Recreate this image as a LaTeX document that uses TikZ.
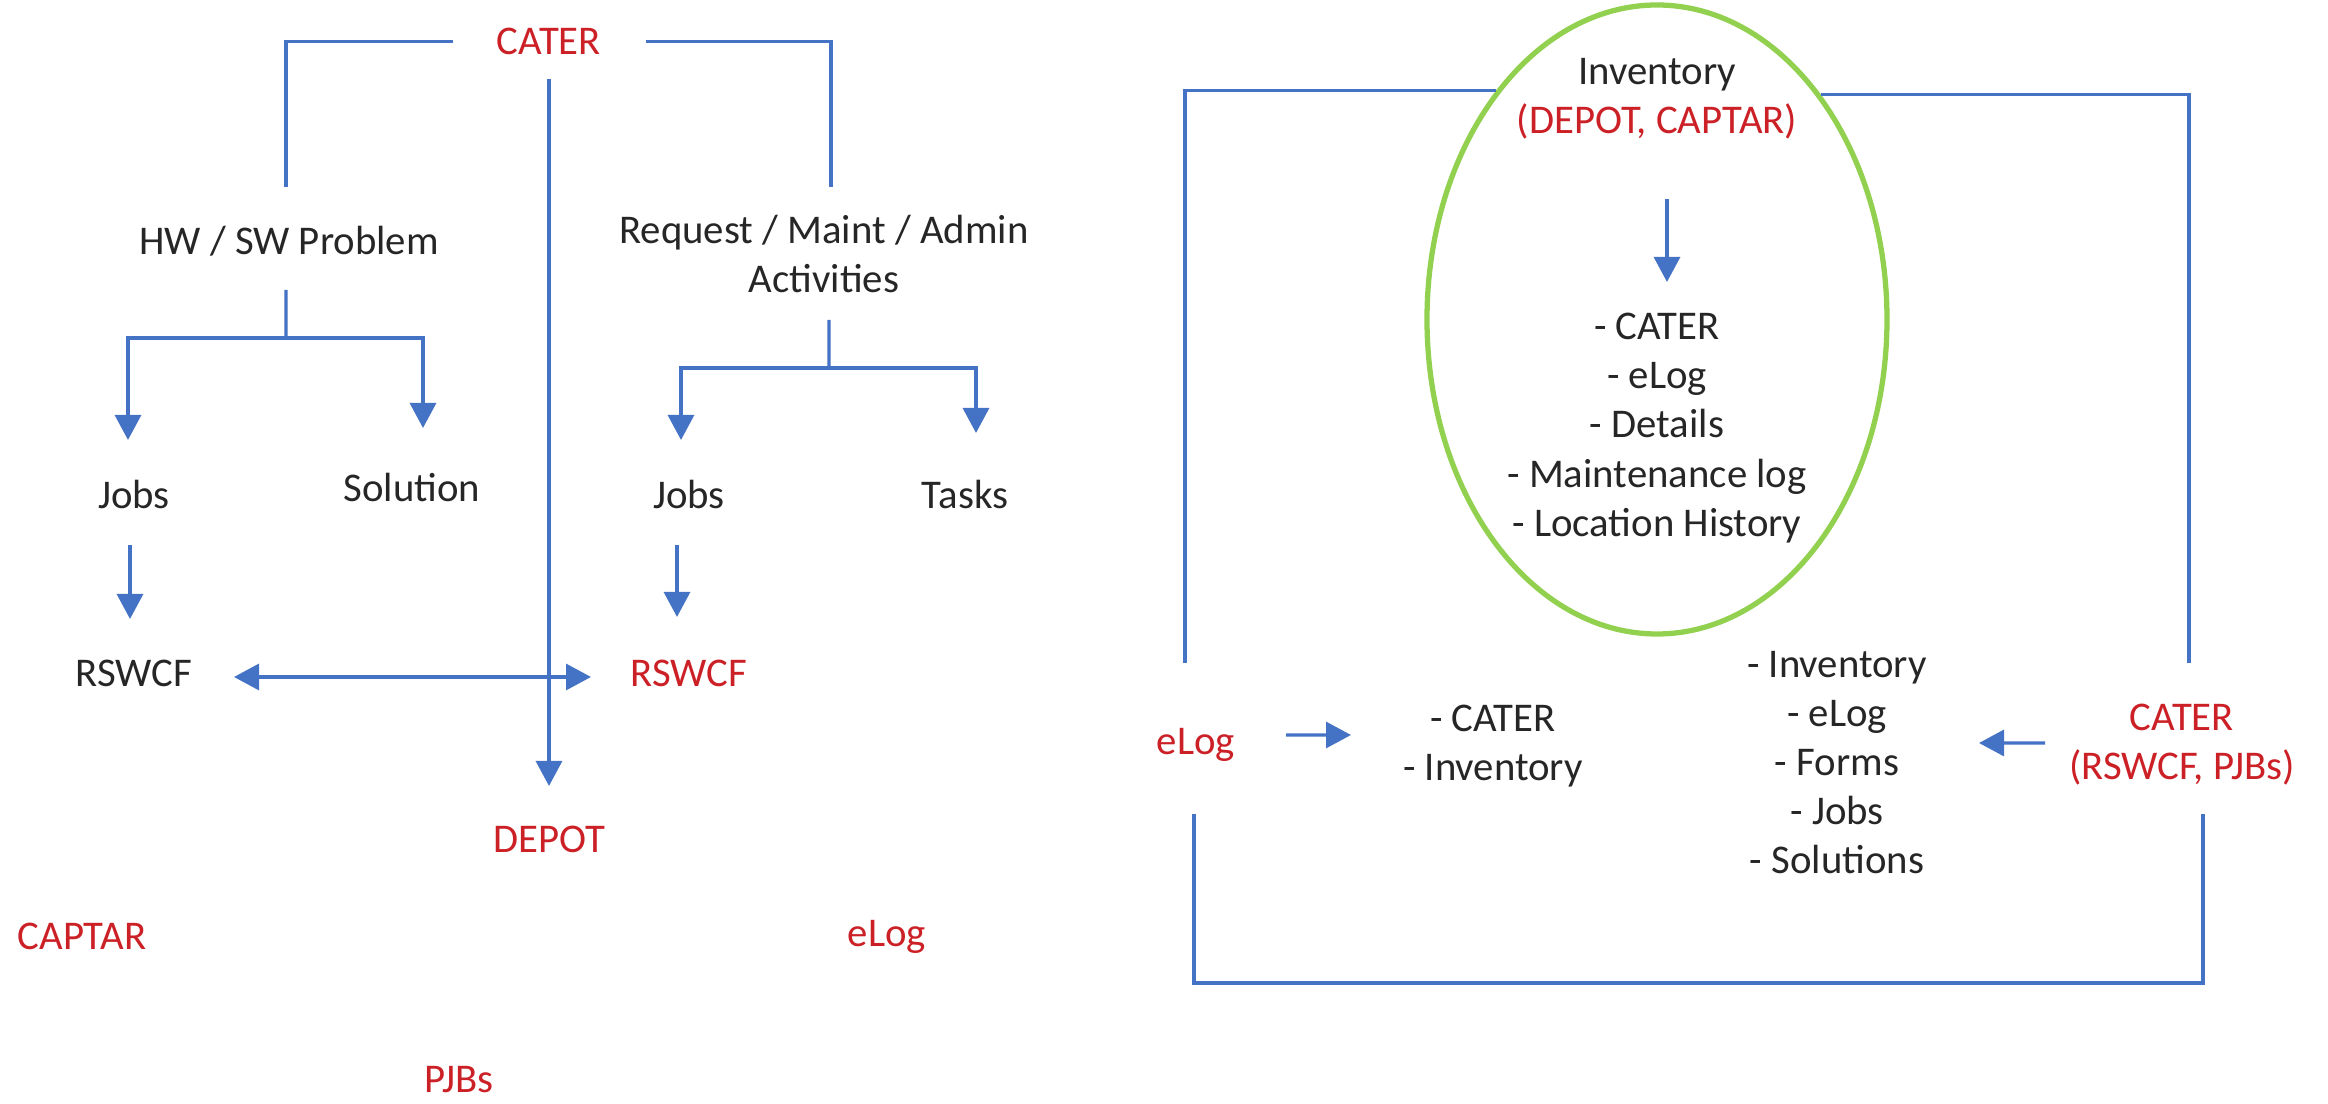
\documentclass[tikz,border=0pt]{standalone}
\usepackage{fontspec}
\setmainfont{Carlito}
\usetikzlibrary{arrows.meta,shapes.geometric}
\definecolor{lineblue}{HTML}{4472C4}
\definecolor{txtred}{HTML}{CC2027}
\definecolor{ringgreen}{HTML}{92D050}
\definecolor{txtgray}{HTML}{262626}
\tikzset{
  lbl/.style={inner sep=0pt, text=txtgray, align=center, font=\fontsize{11.6}{14}\selectfont},
  redlbl/.style={lbl, text=txtred},
  link/.style={draw=lineblue, line width=0.9pt},
  flow/.style={link, -{Triangle[length=2.5mm,width=2.6mm]}},
  twoway/.style={link, {Triangle[length=2.5mm,width=2.6mm]}-{Triangle[length=2.5mm,width=2.6mm]}},
}
\begin{document}
\begin{tikzpicture}
    \useasboundingbox (0,0) rectangle (23.28,-11.04);
    \node[redlbl] (caterT) at (5.49,-0.415) {CATER};
    \node[lbl] (hw) at (2.89,-2.41) {HW / SW Problem};
    \node[lbl] (req) at (8.24,-2.54) {Request / Maint / Admin\\Activities};
    \node[lbl] (jobsA) at (1.34,-4.95) {Jobs};
    \node[lbl] (sol) at (4.12,-4.88) {Solution};
    \node[lbl] (jobsB) at (6.89,-4.95) {Jobs};
    \node[lbl] (tasks) at (9.65,-4.95) {Tasks};
    \node[lbl] (rswA) at (1.34,-6.73) {RSWCF};
    \node[redlbl] (rswB) at (6.89,-6.73) {RSWCF};
    \node[redlbl] (depot) at (5.49,-8.39) {DEPOT};
    \node[redlbl] (captar) at (0.82,-9.36) {CAPTAR};
    \node[redlbl] (elogA) at (8.87,-9.37) {eLog};
    \node[redlbl] (pjbs) at (4.59,-10.80) {PJBs};
    \coordinate (hwfork) at (2.86,-3.38);
    \coordinate (reqfork) at (8.29,-3.68);
    \draw[link] ([xshift=-9.6mm]caterT.center) -| ([xshift=-0.3mm,yshift=5.4mm]hw.center);
    \draw[link] ([xshift=9.7mm]caterT.center) -| ([xshift=0.7mm,yshift=6.7mm]req.center);
    \draw[flow] ([yshift=-3.75mm]caterT.center) -- ([yshift=5.3mm]depot.center);
    \draw[link] ([xshift=-0.3mm,yshift=-4.9mm]hw.center) -- (hwfork);
    \draw[flow] (hwfork) -| ([xshift=-0.6mm,yshift=5.5mm]jobsA.center);
    \draw[flow] (hwfork) -| ([xshift=1.1mm,yshift=6mm]sol.center);
    \draw[link] ([xshift=0.5mm,yshift=-6.6mm]req.center) -- (reqfork);
    \draw[flow] (reqfork) -| ([xshift=-0.8mm,yshift=5.5mm]jobsB.center);
    \draw[flow] (reqfork) -| ([xshift=1.1mm,yshift=6.2mm]tasks.center);
    \draw[flow] ([xshift=-0.4mm,yshift=-5mm]jobsA.center) -- ([xshift=-0.4mm,yshift=5.4mm]rswA.center);
    \draw[flow] ([xshift=-1.2mm,yshift=-5mm]jobsB.center) -- ([xshift=-1.2mm,yshift=5.6mm]rswB.center);
    \draw[twoway] ([xshift=10mm,yshift=-0.4mm]rswA.center) -- ([xshift=-9.8mm,yshift=-0.4mm]rswB.center);

    \node[ellipse, draw=ringgreen, line width=1.5pt, minimum width=4.6cm, minimum height=6.29cm, inner sep=0pt] (ell) at (16.57,-3.195) {};
    \node[lbl] (invTop) at (16.57,-0.99) {Inventory\\\textcolor{txtred}{(DEPOT, CAPTAR)}};
    \node[lbl] (ringList) at (16.57,-4.28) {- CATER\\- eLog\\- Details\\- Maintenance log\\- Location History};
    \node[redlbl] (elogB) at (11.96,-7.45) {eLog};
    \node[lbl] (lst1) at (14.93,-7.46) {- CATER\\- Inventory};
    \node[lbl] (lst2) at (18.37,-7.625) {- Inventory\\- eLog\\- Forms\\- Jobs\\- Solutions};
    \node[redlbl] (catR) at (21.82,-7.445) {CATER\\(RSWCF, PJBs)};
    \coordinate (boxfoot) at (17,-9.83);
    \draw[flow] ([xshift=1mm,yshift=-10mm]invTop.center) -- ([xshift=1mm,yshift=14.6mm]ringList.center);
    \draw[link] ([xshift=-1.1mm,yshift=8.2mm]elogB.center) |- (ell.125.6);
    \draw[link] ([xshift=0.7mm,yshift=8.15mm]catR.center) |- (ell.54.4);
    \draw[link] ([xshift=-0.2mm,yshift=-6.9mm]elogB.center) |- (boxfoot) -| ([xshift=2.1mm,yshift=-6.95mm]catR.center);
    \draw[flow] ([xshift=9mm,yshift=1mm]elogB.center) -- ([xshift=-14.2mm,yshift=1.1mm]lst1.center);
    \draw[flow] ([xshift=-13.7mm,yshift=0.15mm]catR.center) -- ([xshift=14.2mm,yshift=1.95mm]lst2.center);
\end{tikzpicture}
\end{document}
